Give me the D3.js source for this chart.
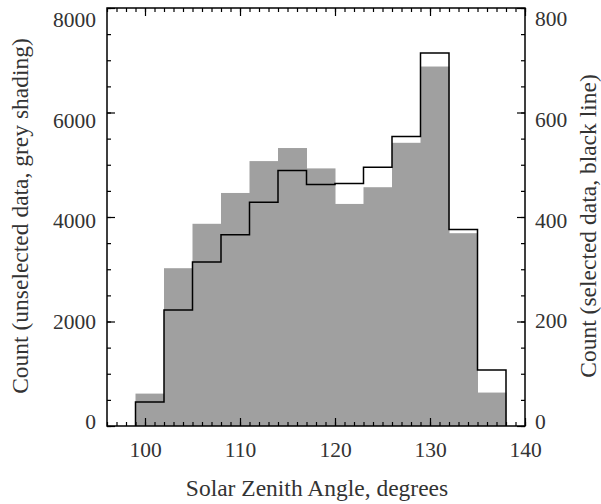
<!DOCTYPE html>
<html>
<head>
<meta charset="utf-8">
<script src="https://cdn.jsdelivr.net/npm/d3@7"></script>
<style>
  body { margin: 0; background: #fff; }
  text { font-family: "Liberation Serif", "Times New Roman", serif; fill: #333; }
</style>
</head>
<body>
<svg id="chart" width="601" height="504"></svg>
<script>
// bin left edges (degrees), each bin is 3 degrees wide
const binStarts = [99, 102, 105, 108, 111, 114, 117, 120, 123, 126, 129, 132, 135];
const binWidth = 3;
// grey shading, left axis
const unselectedCounts = [620, 3020, 3870, 4460, 5070, 5320, 4930, 4250, 4570, 5420, 6880, 3690, 640];
// black line, right axis
const selectedCounts = [46, 222, 314, 366, 428, 489, 462, 464, 495, 554, 714, 376, 107];

const xTicks = [100, 110, 120, 130, 140];
const yLeftTicks = [0, 2000, 4000, 6000, 8000];
const yRightTicks = [0, 200, 400, 600, 800];

const svg = d3.select('#chart');
const plotLeft = 107, plotRight = 525, plotTop = 8, plotBottom = 426;
const tickFont = '21.5px', titleFont = '23.5px';

const x = d3.scaleLinear().domain([96, 140]).range([plotLeft, plotRight]);
const yL = d3.scaleLinear().domain([0, 8000]).range([plotBottom, plotTop]);
const yR = d3.scaleLinear().domain([0, 800]).range([plotBottom, plotTop]);
// tick labels sit a little inside the ends of the axis in the original
const labL = d3.scaleLinear().domain([0, 8000]).range([421, 19]);
const labR = d3.scaleLinear().domain([0, 800]).range([421, 18]);

// grey histogram
svg.append('g')
  .selectAll('rect')
  .data(binStarts)
  .enter()
  .append('rect')
  .attr('x', d => x(d))
  .attr('width', d => x(d + binWidth) - x(d) + 0.5)
  .attr('y', (d, i) => yL(unselectedCounts[i]))
  .attr('height', (d, i) => plotBottom - yL(unselectedCounts[i]))
  .attr('fill', '#a0a0a0');

// black step outline
const pts = [[binStarts[0], 0]];
binStarts.forEach((d, i) => pts.push([d, selectedCounts[i]]));
pts.push([binStarts[binStarts.length - 1] + binWidth, 0]);

const line = d3.line()
  .x(d => x(d[0]))
  .y(d => yR(d[1]))
  .curve(d3.curveStepAfter);

svg.append('path')
  .datum(pts)
  .attr('fill', 'none')
  .attr('stroke', '#000')
  .attr('stroke-width', 1.5)
  .attr('d', line);

// axes: ticks point inward on all four sides
const minorX = d3.range(96, 141, 1);
const minorYL = d3.range(0, 8001, 500);
const minorYR = d3.range(0, 801, 50);

function styleAxis(g) {
  g.select('.domain').remove();
  g.selectAll('line').attr('stroke', '#000').attr('stroke-width', 1.2);
}

// minor ticks
svg.append('g').attr('transform', `translate(0,${plotBottom})`)
  .call(d3.axisBottom(x).tickValues(minorX).tickSize(-4).tickFormat(''))
  .call(styleAxis);
svg.append('g').attr('transform', `translate(0,${plotTop})`)
  .call(d3.axisTop(x).tickValues(minorX).tickSize(-4).tickFormat(''))
  .call(styleAxis);
svg.append('g').attr('transform', `translate(${plotLeft},0)`)
  .call(d3.axisLeft(yL).tickValues(minorYL).tickSize(-4).tickFormat(''))
  .call(styleAxis);
svg.append('g').attr('transform', `translate(${plotRight},0)`)
  .call(d3.axisRight(yR).tickValues(minorYR).tickSize(-4).tickFormat(''))
  .call(styleAxis);

// major ticks + labels
const xAxis = svg.append('g').attr('transform', `translate(0,${plotBottom})`)
  .call(d3.axisBottom(x).tickValues(xTicks).tickSize(-8).tickFormat(d3.format('d')))
  .call(styleAxis);
xAxis.selectAll('text')
  .attr('y', 31).attr('dy', 0)
  .style('font-size', tickFont);

svg.append('g').attr('transform', `translate(0,${plotTop})`)
  .call(d3.axisTop(x).tickValues(xTicks).tickSize(-8).tickFormat(''))
  .call(styleAxis);

const yAxisL = svg.append('g').attr('transform', `translate(${plotLeft},0)`)
  .call(d3.axisLeft(yL).tickValues(yLeftTicks).tickSize(-8).tickFormat(d3.format('d')))
  .call(styleAxis);
yAxisL.selectAll('text')
  .attr('x', -11)
  .attr('y', d => labL(d) - yL(d))
  .attr('dy', '0.35em')
  .style('font-size', tickFont);

const yAxisR = svg.append('g').attr('transform', `translate(${plotRight},0)`)
  .call(d3.axisRight(yR).tickValues(yRightTicks).tickSize(-8).tickFormat(d3.format('d')))
  .call(styleAxis);
yAxisR.selectAll('text')
  .attr('x', 10)
  .attr('y', d => labR(d) - yR(d))
  .attr('dy', '0.35em')
  .style('font-size', tickFont);

// frame
svg.append('rect')
  .attr('x', plotLeft).attr('y', plotTop)
  .attr('width', plotRight - plotLeft).attr('height', plotBottom - plotTop)
  .attr('fill', 'none')
  .attr('stroke', '#000')
  .attr('stroke-width', 1.5);

// titles
svg.append('text')
  .attr('x', 317)
  .attr('y', 496)
  .attr('text-anchor', 'middle')
  .style('font-size', titleFont)
  .text('Solar Zenith Angle, degrees');

svg.append('text')
  .attr('transform', 'translate(28,216) rotate(-90)')
  .attr('text-anchor', 'middle')
  .style('font-size', titleFont)
  .text('Count (unselected data, grey shading)');

svg.append('text')
  .attr('transform', 'translate(596,226) rotate(-90)')
  .attr('text-anchor', 'middle')
  .style('font-size', titleFont)
  .text('Count (selected data, black line)');
</script>
</body>
</html>
